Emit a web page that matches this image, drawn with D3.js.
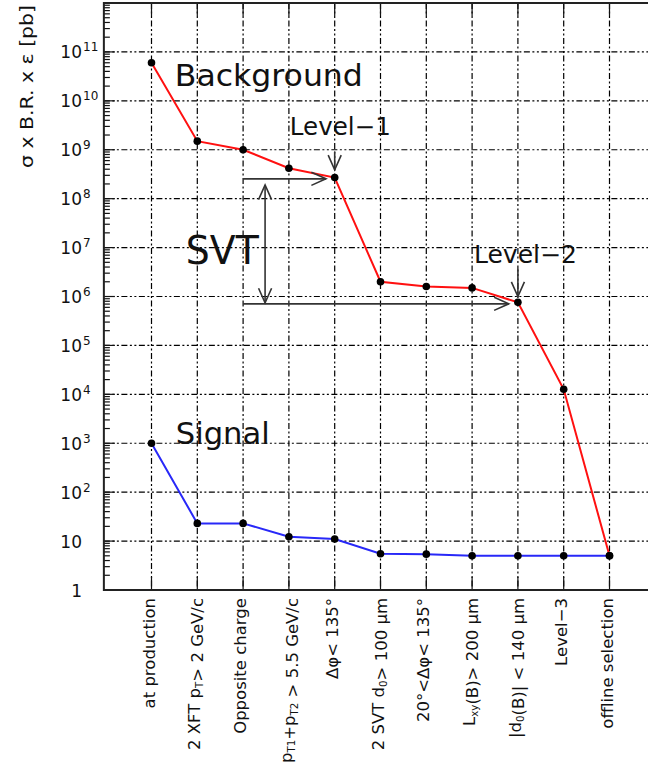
<!DOCTYPE html>
<html>
<head>
<meta charset="utf-8">
<script src="https://cdn.jsdelivr.net/npm/d3@7"></script>
<style>
  html, body { margin: 0; padding: 0; background: #fff; }
  svg { display: block; }
  text { font-family: "DejaVu Sans", "Liberation Sans", sans-serif; fill: #111; }
</style>
</head>
<body>
<svg id="chart" width="648" height="776"></svg>
<script>
// Selection steps (sub/superscripts written as _{..})
const categories = [
  "at production",
  "2 XFT p_{T}> 2 GeV/c",
  "Opposite charge",
  "p_{T1}+p_{T2} > 5.5 GeV/c",
  "Δφ< 135°",
  "2 SVT d_{0}> 100 μm",
  "20°<Δφ< 135°",
  "L_{xy}(B)> 200 μm",
  "|d_{0}(B)| < 140 μm",
  "Level−3",
  "offline selection"
];

// σ × B.R. × ε in pb after each step
const backgroundXsec = [6e10, 1.5e9, 1.0e9, 4.2e8, 2.7e8, 2.0e6, 1.6e6, 1.5e6, 7.6e5, 1.27e4, 5];
const signalXsec     = [1000, 23, 23, 12.3, 11, 5.5, 5.4, 5.0, 5.0, 5.0, 5.0];

// Decade tick labels
const yTickValues    = [1, 10, 1e2, 1e3, 1e4, 1e5, 1e6, 1e7, 1e8, 1e9, 1e10, 1e11];
const yTickBases     = ["1", "10", "10", "10", "10", "10", "10", "10", "10", "10", "10", "10"];
const yTickExponents = ["", "", "2", "3", "4", "5", "6", "7", "8", "9", "10", "11"];

const yTitle = "σ x B.R. x ε [pb]";

const svg = d3.select("#chart");

const x = d3.scaleLinear().domain([0, 10]).range([151.5, 609.5]);
const y = d3.scaleLog().domain([1, 1e12]).range([590, 3]);

const frameLeft = x(-1.04), frameRight = x(11.05);
const frameTop = y(1e12), frameBottom = y(1);

// ---- grid (dash-dot-dot) ----
const gridDash = "6,2.5,2,2.5,2,2.5";
const grid = svg.append("g").attr("stroke", "#000").attr("stroke-width", 1.2)
  .attr("stroke-dasharray", gridDash).attr("fill", "none");
grid.selectAll("line.h").data(yTickValues.filter(v => v > 1)).join("line")
  .attr("class", "h")
  .attr("x1", frameLeft).attr("x2", frameRight)
  .attr("y1", d => y(d)).attr("y2", d => y(d));
grid.selectAll("line.v").data(categories.map((c, i) => i)).join("line")
  .attr("class", "v")
  .attr("x1", d => x(d)).attr("x2", d => x(d))
  .attr("y1", frameTop).attr("y2", frameBottom);

// ---- axis ticks ----
const ticks = svg.append("g").attr("stroke", "#111").attr("stroke-width", 1.2);
const minorVals = [];
for (let e = 0; e < 12; e++) for (let k = 2; k <= 9; k++) minorVals.push(k * Math.pow(10, e));
ticks.selectAll("line.minor").data(minorVals).join("line")
  .attr("class", "minor")
  .attr("x1", frameLeft).attr("x2", frameLeft + 6)
  .attr("y1", d => y(d)).attr("y2", d => y(d));
ticks.selectAll("line.major").data(yTickValues.concat([1e12])).join("line")
  .attr("class", "major")
  .attr("x1", frameLeft).attr("x2", frameLeft + 11)
  .attr("y1", d => y(d)).attr("y2", d => y(d));
ticks.selectAll("line.xb").data(categories.map((c, i) => i)).join("line")
  .attr("class", "xb")
  .attr("x1", d => x(d)).attr("x2", d => x(d))
  .attr("y1", frameBottom).attr("y2", frameBottom - 13);
ticks.selectAll("line.xt").data(categories.map((c, i) => i)).join("line")
  .attr("class", "xt")
  .attr("x1", d => x(d)).attr("x2", d => x(d))
  .attr("y1", frameTop).attr("y2", frameTop + 13);

// ---- frame ----
svg.append("path")
  .attr("d", `M${frameRight},${frameTop} H${frameLeft} V${frameBottom} H${frameRight}`)
  .attr("fill", "none").attr("stroke", "#222").attr("stroke-width", 2);

// ---- y tick labels ----
const yLab = svg.append("g");
yTickValues.forEach((v, i) => {
  yLab.append("text")
    .attr("x", 82).attr("y", y(v) + 6.5)
    .attr("text-anchor", "end")
    .attr("font-size", 17)
    .text(yTickBases[i]);
  if (yTickExponents[i]) {
    yLab.append("text")
      .attr("x", 83).attr("y", y(v) - 0.5)
      .attr("font-size", 12)
      .text(yTickExponents[i]);
  }
});

// ---- y title ----
svg.append("text")
  .attr("transform", `translate(33,5) rotate(-90)`)
  .attr("text-anchor", "end")
  .attr("font-size", 18.5)
  .attr("textLength", 163).attr("lengthAdjust", "spacingAndGlyphs")
  .text(yTitle);

// ---- x category labels (rotated, with subscripts) ----
function addRich(sel, str, size) {
  const re = /_\{([^}]*)\}/g;
  let last = 0, m;
  while ((m = re.exec(str)) !== null) {
    if (m.index > last) sel.append("tspan").attr("font-size", size).text(str.slice(last, m.index));
    sel.append("tspan").attr("font-size", size * 0.62).attr("dy", 3).text(m[1]);
    sel.append("tspan").attr("font-size", size).attr("dy", -3).text("");
    last = re.lastIndex;
  }
  if (last < str.length) sel.append("tspan").attr("font-size", size).text(str.slice(last));
}
categories.forEach((c, i) => {
  const t = svg.append("text")
    .attr("transform", `translate(${x(i) + 3},598) rotate(-90)`)
    .attr("text-anchor", "end");
  addRich(t, c, 16.5);
});

// ---- series ----
const line = d3.line().x((d, i) => x(i)).y(d => y(d));
svg.append("path").datum(backgroundXsec).attr("d", line)
  .attr("fill", "none").attr("stroke", "#ff1010").attr("stroke-width", 2);
svg.append("path").datum(signalXsec).attr("d", line)
  .attr("fill", "none").attr("stroke", "#2828f8").attr("stroke-width", 2);
[backgroundXsec, signalXsec].forEach(series => {
  svg.append("g").selectAll("circle").data(series).join("circle")
    .attr("cx", (d, i) => x(i)).attr("cy", d => y(d)).attr("r", 3.8)
    .attr("fill", "#000");
});

// ---- annotations ----
const arrowColor = "#333";
function arrow(x1, y1, x2, y2, both) {
  const g = svg.append("g").attr("stroke", arrowColor).attr("stroke-width", 1.6).attr("fill", "none");
  g.append("line").attr("x1", x1).attr("y1", y1).attr("x2", x2).attr("y2", y2);
  const head = (tx, ty, fx, fy) => {
    const a = Math.atan2(ty - fy, tx - fx), L = 16, w = 0.42;
    const p1 = [tx - L * Math.cos(a - w), ty - L * Math.sin(a - w)];
    const p2 = [tx - L * Math.cos(a + w), ty - L * Math.sin(a + w)];
    g.append("path").attr("d", `M${p1[0]},${p1[1]} L${tx},${ty} L${p2[0]},${p2[1]}`);
  };
  head(x2, y2, x1, y1);
  if (both) head(x1, y1, x2, y2);
}
// SVT reduction: horizontal guides and the vertical span between them
arrow(x(2), y(Math.pow(10, 8.405)), x(3.81), y(Math.pow(10, 8.405)));
arrow(x(2), y(Math.pow(10, 5.85)), x(7.8), y(Math.pow(10, 5.85)));
arrow(x(2.48), y(Math.pow(10, 8.28)), x(2.48), y(Math.pow(10, 5.87)), true);
// trigger level markers
arrow(x(4), y(Math.pow(10, 8.96)), x(4), y(Math.pow(10, 8.59)));
arrow(x(8), y(Math.pow(10, 6.55)), x(8), y(Math.pow(10, 6.0)));

const labels = [
  { t: "Background", i: 0.51, lv: 10.3, s: 30, w: 188 },
  { t: "Level−1", i: 3.02, lv: 9.3, s: 24, w: 101 },
  { t: "SVT", i: 0.75, lv: 6.67, s: 39, w: 73 },
  { t: "Level−2", i: 7.04, lv: 6.69, s: 24, w: 103 },
  { t: "Signal", i: 0.53, lv: 2.99, s: 30, w: 94 }
];
labels.forEach(d => {
  svg.append("text")
    .attr("x", x(d.i)).attr("y", y(Math.pow(10, d.lv)))
    .attr("font-size", d.s)
    .attr("textLength", d.w).attr("lengthAdjust", "spacingAndGlyphs")
    .text(d.t);
});
</script>
</body>
</html>
